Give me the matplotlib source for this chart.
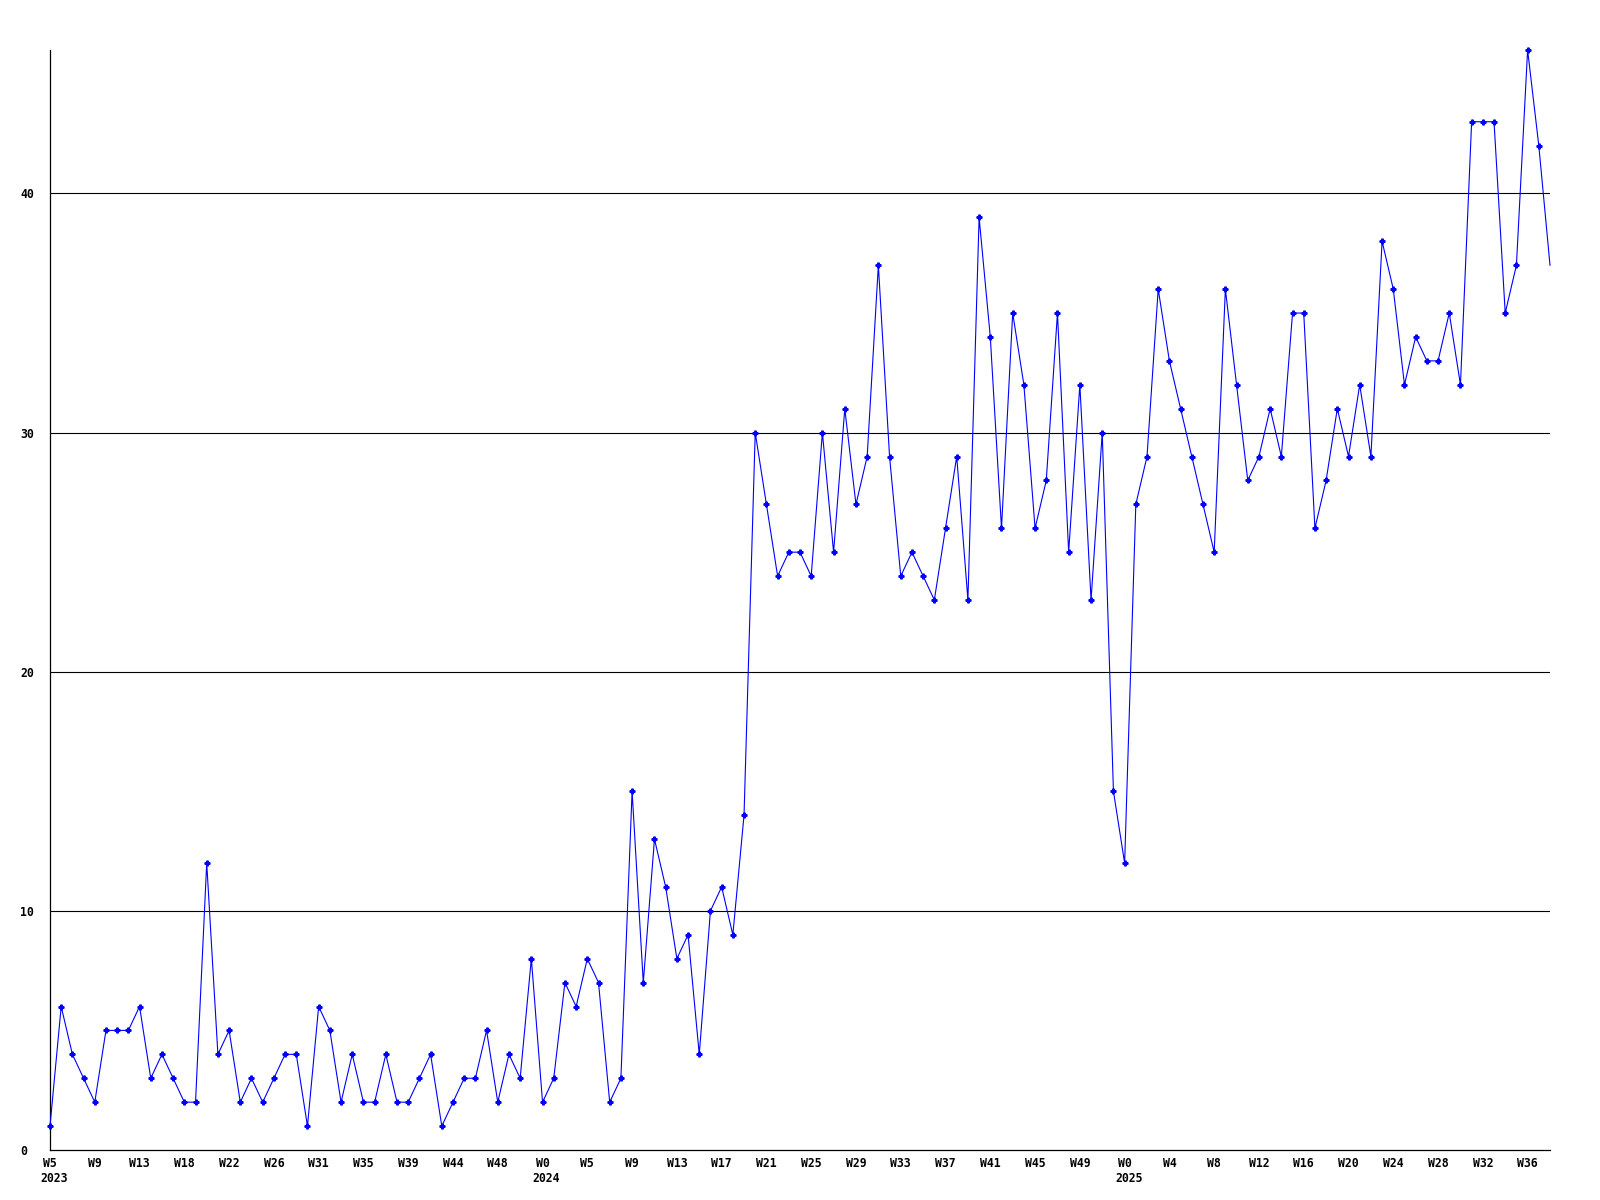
import numpy as np
import matplotlib.pyplot as plt
from matplotlib.transforms import offset_copy

# weekly counts, one point per week (W5 2023 .. W38 2025)
counts = [
    1, 6, 4, 3, 2, 5, 5, 5, 6, 3, 4, 3, 2, 2, 12, 4, 5, 2, 3, 2, 3, 4, 4, 1,
    6, 5, 2, 4, 2, 2, 4, 2,
    2, 3, 4, 1, 2, 3, 3, 5, 2, 4, 3, 8, 2, 3, 7, 6, 8, 7, 2, 3, 15, 7, 13,
    11, 8, 9, 4, 10, 11, 9, 14,
    30, 27, 24, 25, 25, 24, 30, 25, 31, 27, 29, 37, 29, 24, 25, 24, 23, 26,
    29, 23, 39, 34, 26, 35, 32, 26, 28, 35, 25, 32, 23, 30,
    15, 12, 27, 29, 36, 33, 31, 29, 27, 25, 36, 32, 28, 29, 31, 29, 35, 35,
    26, 28, 31, 29, 32, 29, 38, 36, 32, 34, 33, 33, 35, 32, 43, 43, 43, 35,
    37, 46, 42, 37,
]

# x tick labels, every 4th point
week_labels = ["W5", "W9", "W13", "W18", "W22", "W26", "W31", "W35", "W39",
               "W44", "W48", "W0", "W5", "W9", "W13", "W17", "W21", "W25",
               "W29", "W33", "W37", "W41", "W45", "W49", "W0", "W4", "W8",
               "W12", "W16", "W20", "W24", "W28", "W32", "W36"]
year_labels = {0: "2023", 44: "2024", 96: "2025"}

y_ticks = [0, 10, 20, 30, 40]

font = dict(family="DejaVu Sans Mono", weight="bold", size=8.3)

x = np.arange(len(counts))

fig = plt.figure(figsize=(16, 12), dpi=100)
ax = fig.add_axes([50 / 1600, 50 / 1200, 1500 / 1600, 1100 / 1200])

ax.plot(x, counts, color="#0000ff", lw=0.8, marker="P", ms=3.5,
        markevery=list(range(len(counts) - 1)), clip_on=False, zorder=3)

ax.set_xlim(0, len(counts) - 1)
ax.set_ylim(0, 46)

for v in y_ticks[1:]:
    ax.axhline(v, color="black", lw=0.8, zorder=1)

for s in ["top", "right"]:
    ax.spines[s].set_visible(False)
for s in ["left", "bottom"]:
    ax.spines[s].set_color("black")
    ax.spines[s].set_linewidth(0.9)

ax.set_yticks(y_ticks)
ax.set_yticklabels([str(v) for v in y_ticks], **font)
for lab in ax.get_yticklabels():
    lab.set_horizontalalignment("left")
ax.tick_params(axis="y", length=0, pad=21.6)

tick_pos = x[::4][:len(week_labels)]
ax.set_xticks(tick_pos)
ax.set_xticklabels(week_labels, **font)
ax.tick_params(axis="x", length=0, pad=5)

trans = offset_copy(ax.get_xaxis_transform(), fig=fig, x=-7, y=-16, units="points")
for i, yr in year_labels.items():
    ax.text(i, 0, yr, transform=trans, ha="left", va="top", **font)

fig.savefig("out.png", dpi=100)
